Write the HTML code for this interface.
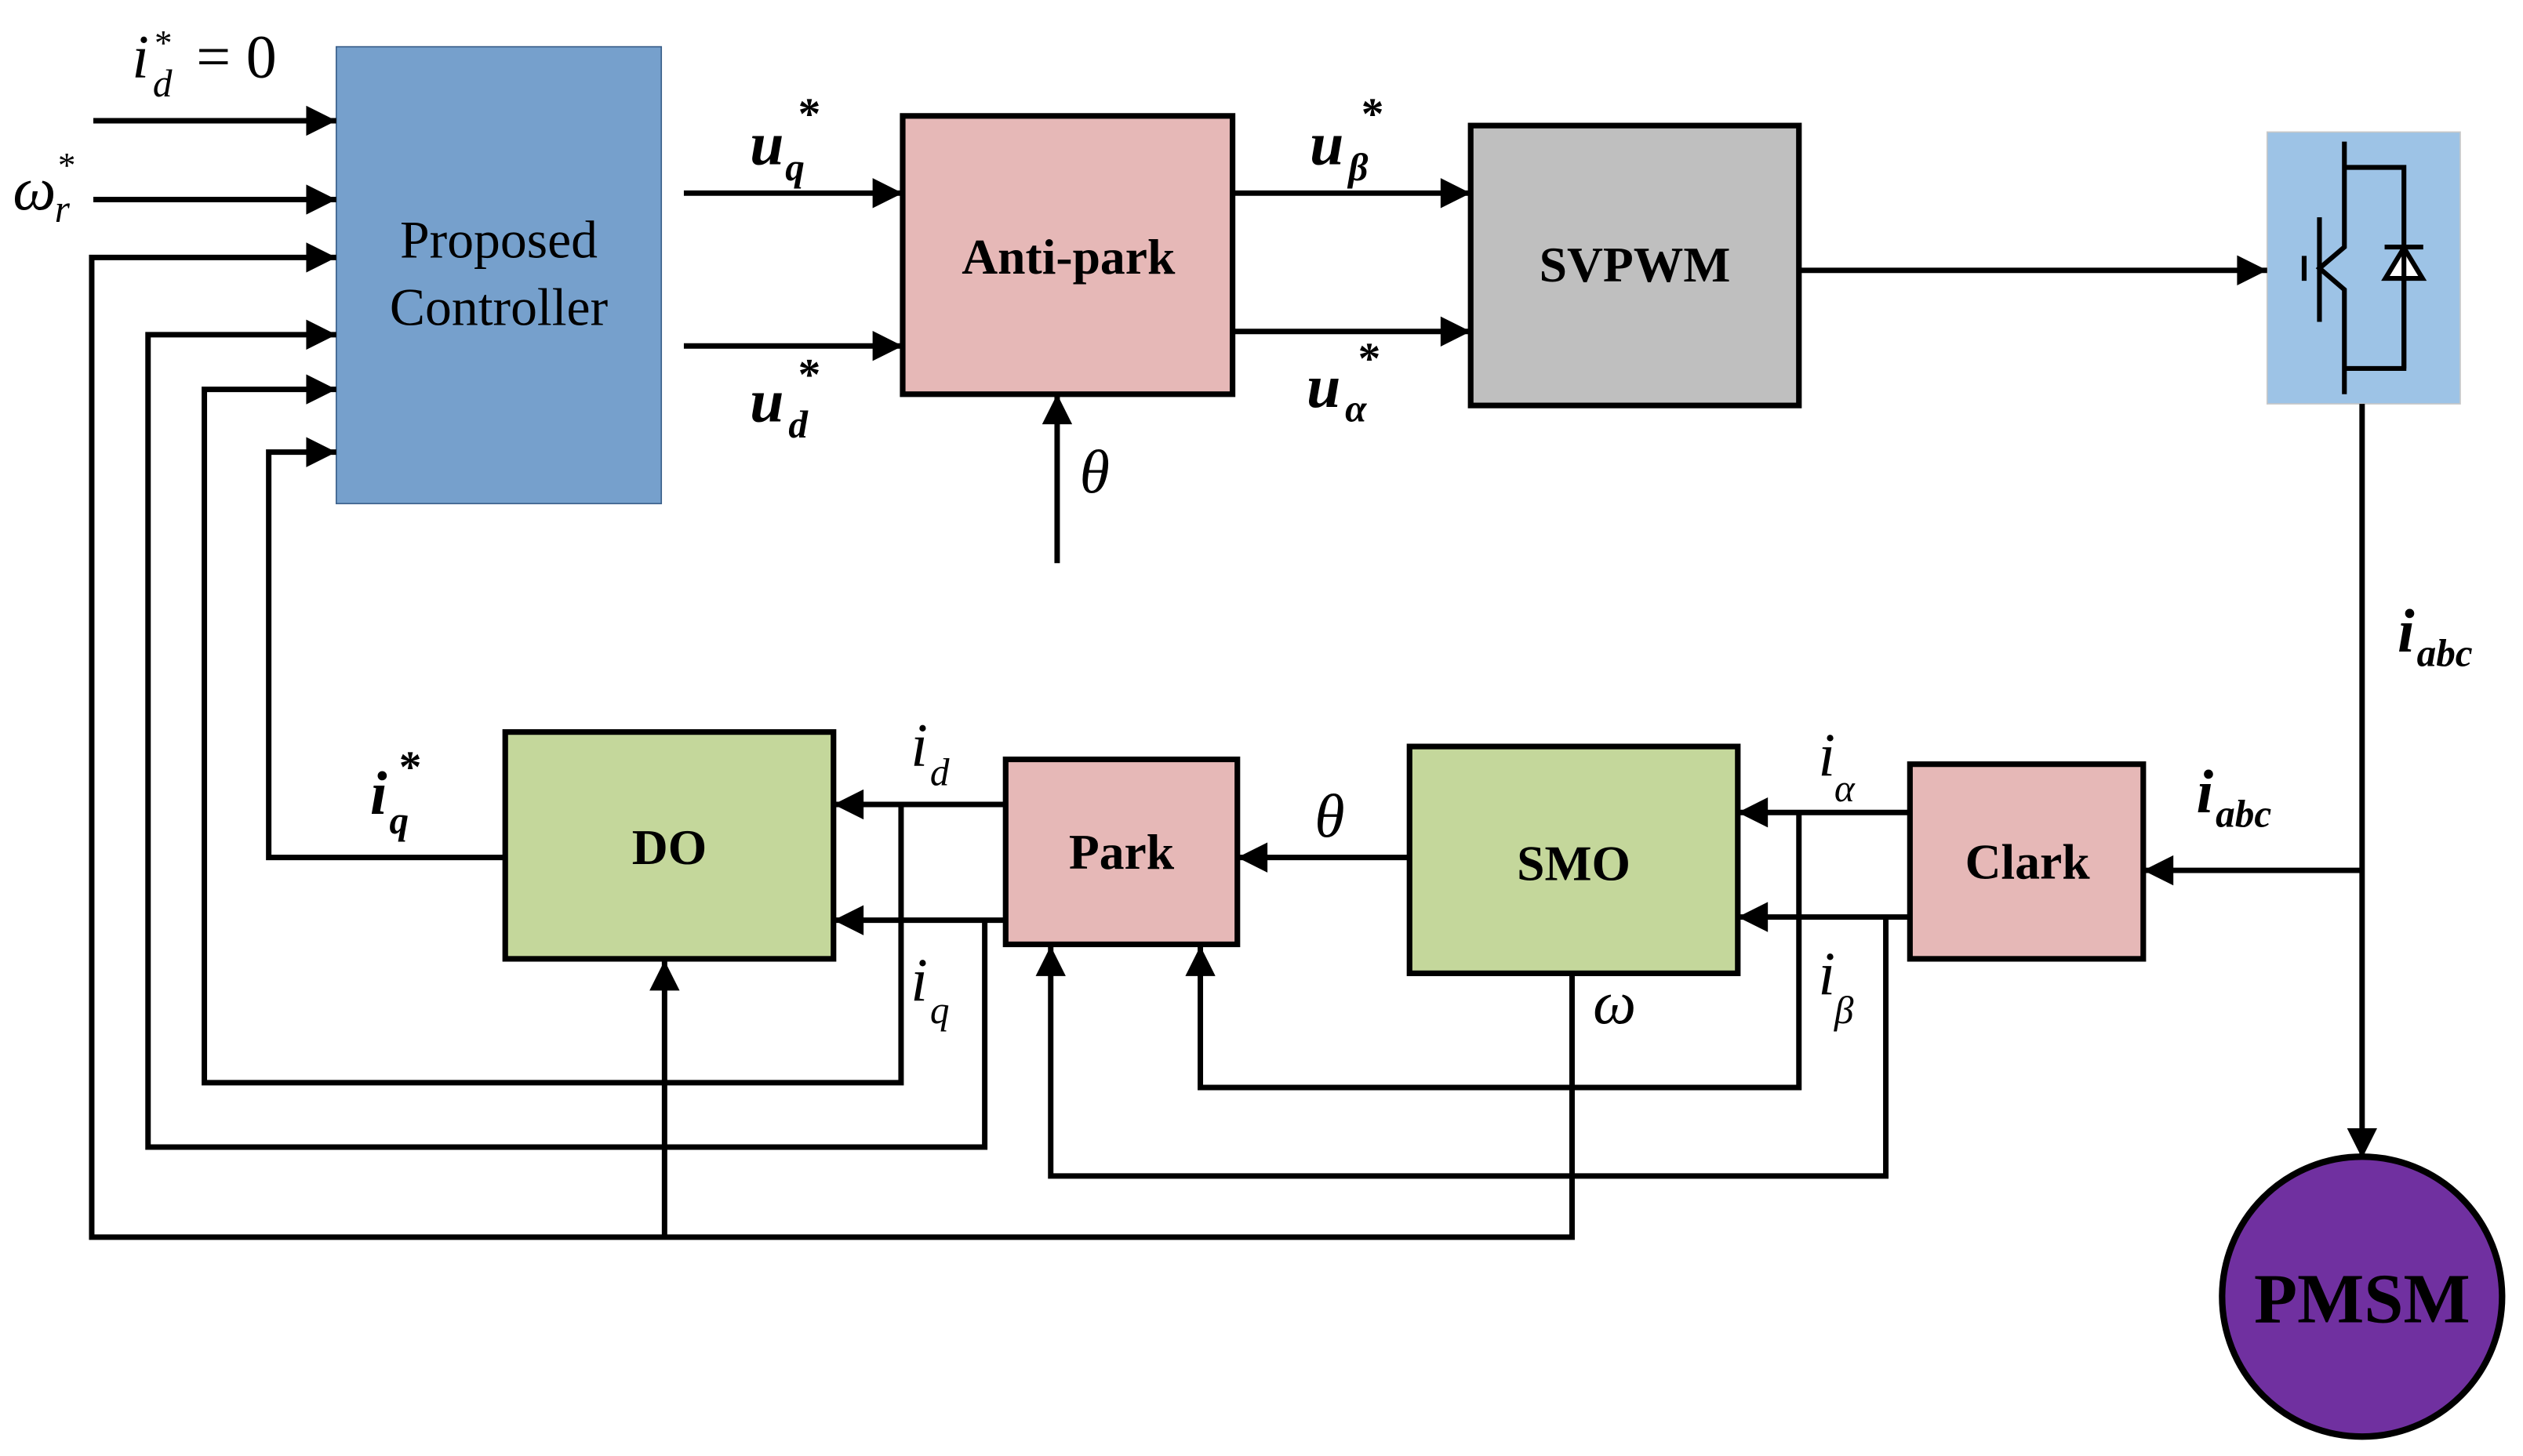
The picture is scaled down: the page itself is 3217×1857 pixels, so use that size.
<!DOCTYPE html>
<html><head><meta charset="utf-8"><style>
html,body{margin:0;padding:0;background:#fff}
svg{display:block}
text{font-family:"Liberation Serif",serif}
.l{stroke:#000;stroke-width:3.4;fill:none;stroke-linejoin:miter}
.m{font-style:italic;font-size:38px}
.s{font-style:italic;font-size:24px}
.b{font-weight:bold;font-size:31px}
</style></head><body>
<svg width="3217" height="1857" viewBox="0 0 1568 905" xmlns="http://www.w3.org/2000/svg">
<defs>
<marker id="a" viewBox="0 0 10 10" refX="10" refY="5" markerWidth="7.5" markerHeight="5.5" markerUnits="strokeWidth" orient="auto"><path d="M0,0L10,5L0,10z" fill="#000"/></marker>
</defs>
<rect x="209" y="29" width="202" height="284" fill="#76a0cc" stroke="#3a5f8a" stroke-width="0.8"/>
<text x="310" y="160" text-anchor="middle" font-size="33">Proposed</text>
<text x="310" y="202" text-anchor="middle" font-size="33">Controller</text>
<rect x="561" y="72" width="205" height="173" fill="#e6b8b7" stroke="#000" stroke-width="3.5"/>
<text x="664" y="170" text-anchor="middle" class="b">Anti-park</text>
<rect x="914" y="78" width="204" height="174" fill="#bfbfbf" stroke="#000" stroke-width="3.5"/>
<text x="1016" y="175" text-anchor="middle" class="b">SVPWM</text>
<rect x="1409" y="82" width="120" height="169" fill="#9dc3e6" stroke="#c8c8c8" stroke-width="0.8"/>
<g stroke="#000" stroke-width="3" fill="none">
<path d="M1457,88V153.5L1441.5,166.7L1457,180V245"/>
<path d="M1457,104H1494V229H1457"/>
<path d="M1441.5,135V200M1432,159V174.5"/>
<path d="M1482,153.5H1506"/>
</g>
<path d="M1494,154L1482.5,173H1505.5Z" fill="#fff" stroke="#000" stroke-width="3"/>
<path d="M1494,154V229" stroke="#000" stroke-width="3"/>
<rect x="1187" y="475" width="145" height="121" fill="#e6b8b7" stroke="#000" stroke-width="3.5"/>
<text x="1260" y="546" text-anchor="middle" class="b">Clark</text>
<rect x="876" y="464" width="204" height="141" fill="#c4d79b" stroke="#000" stroke-width="3.5"/>
<text x="978" y="547" text-anchor="middle" class="b">SMO</text>
<rect x="625" y="472" width="144" height="115" fill="#e6b8b7" stroke="#000" stroke-width="3.5"/>
<text x="697" y="540" text-anchor="middle" class="b">Park</text>
<rect x="314" y="455" width="204" height="141" fill="#c4d79b" stroke="#000" stroke-width="3.5"/>
<text x="416" y="537" text-anchor="middle" class="b">DO</text>
<circle cx="1468" cy="806" r="87" fill="#7030a0" stroke="#000" stroke-width="4"/>
<text x="1468" y="822" text-anchor="middle" font-weight="bold" font-size="44">PMSM</text>
<g class="l">
<path d="M58,75H209" marker-end="url(#a)"/>
<path d="M58,124H209" marker-end="url(#a)"/>
<path d="M977,605V769H57V160H209" marker-end="url(#a)"/>
<path d="M612,572V713H92V208H209" marker-end="url(#a)"/>
<path d="M560,500V673H127V242H209" marker-end="url(#a)"/>
<path d="M314,533H167V281H209" marker-end="url(#a)"/>
<path d="M413,769V597" marker-end="url(#a)"/>
<path d="M425,120H561" marker-end="url(#a)"/>
<path d="M425,215H561" marker-end="url(#a)"/>
<path d="M657,350V245" marker-end="url(#a)"/>
<path d="M766,120H914" marker-end="url(#a)"/>
<path d="M766,206H914" marker-end="url(#a)"/>
<path d="M1118,168H1409" marker-end="url(#a)"/>
<path d="M1468,251V720" marker-end="url(#a)"/>
<path d="M1468,541H1332" marker-end="url(#a)"/>
<path d="M1187,505H1080" marker-end="url(#a)"/>
<path d="M1187,570H1080" marker-end="url(#a)"/>
<path d="M1118,505V676H746V588" marker-end="url(#a)"/>
<path d="M1172,570V731H653V588" marker-end="url(#a)"/>
<path d="M876,533H769" marker-end="url(#a)"/>
<path d="M625,500H518" marker-end="url(#a)"/>
<path d="M625,572H518" marker-end="url(#a)"/>
</g>
<text x="82" y="48" class="m">i</text><text x="95" y="60" class="s">d</text><text x="96" y="34" font-size="22">*</text>
<text x="122" y="48" font-size="38">= 0</text>
<text x="8" y="130" class="m">ω</text><text x="34" y="138" class="s">r</text><text x="36" y="110" font-size="22">*</text>
<text x="466" y="102" class="m" font-weight="bold">u</text><text x="488" y="112" class="s" font-weight="bold">q</text><text x="496" y="80" font-size="28" font-weight="bold">*</text>
<text x="466" y="262" class="m" font-weight="bold">u</text><text x="490" y="272" class="s" font-weight="bold">d</text><text x="496" y="242" font-size="28" font-weight="bold">*</text>
<text x="671" y="306" class="m">θ</text>
<text x="814" y="102" class="m" font-weight="bold">u</text><text x="838" y="112" class="s" font-weight="bold">β</text><text x="846" y="80" font-size="28" font-weight="bold">*</text>
<text x="812" y="253" class="m" font-weight="bold">u</text><text x="836" y="262" class="s" font-weight="bold">α</text><text x="844" y="232" font-size="28" font-weight="bold">*</text>
<text x="1490" y="405" class="m" font-weight="bold">i</text><text x="1502" y="414" class="s" font-weight="bold">abc</text>
<text x="1365" y="505" class="m" font-weight="bold">i</text><text x="1377" y="514" class="s" font-weight="bold">abc</text>
<text x="1130" y="482" class="m">i</text><text x="1140" y="498" class="s">α</text>
<text x="1130" y="618" class="m">i</text><text x="1140" y="636" class="s">β</text>
<text x="817" y="520" class="m">θ</text>
<text x="990" y="636" class="m">ω</text>
<text x="566" y="476" class="m">i</text><text x="578" y="488" class="s">d</text>
<text x="566" y="622" class="m">i</text><text x="578" y="636" class="s">q</text>
<text x="230" y="506" class="m" font-weight="bold">i</text><text x="242" y="518" class="s" font-weight="bold">q</text><text x="248" y="486" font-size="28" font-weight="bold">*</text>
</svg>
</body></html>
